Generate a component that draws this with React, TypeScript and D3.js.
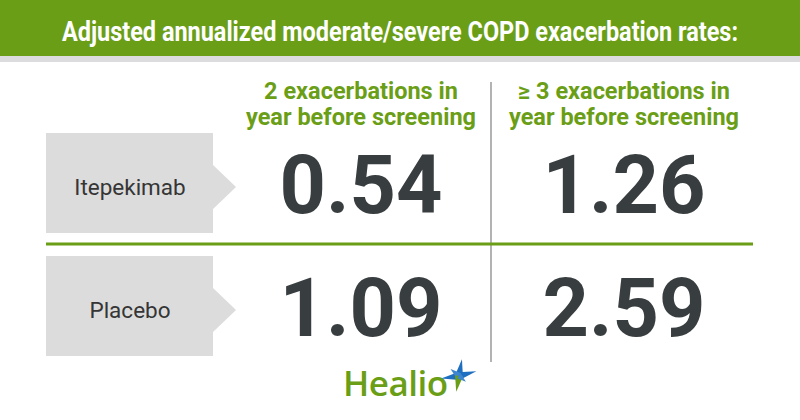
import React, { useEffect, useRef, useState } from "react";
import * as d3 from "d3";

const title = "Adjusted annualized moderate/severe COPD exacerbation rates:";
const columns = ["2 exacerbations in|year before screening", "≥ 3 exacerbations in|year before screening"];
const rows = ["Itepekimab", "Placebo"];
const itepekimabValues = [0.54, 1.26];
const placeboValues = [1.09, 2.59];
const seriesValues = [itepekimabValues, placeboValues];

const W = 800;
const H = 420;
const GREEN = "#6a9e16";
const DARK = "#383d3f";

export default function App() {
  const titleRef = useRef<SVGTextElement>(null);
  const [sx, setSx] = useState(0.84);
  useEffect(() => {
    if (titleRef.current) {
      const w = titleRef.current.getComputedTextLength();
      if (w > 0) setSx(676 / w);
    }
  }, []);

  const x = d3.scalePoint<string>().domain(columns).range([361, 624]);
  const y = d3.scaleBand<string>().domain(rows).range([133, 356]).paddingInner(0.187);
  const bw = y.bandwidth();
  const fmt = d3.format(".2f");

  const star = (cx: number, cy: number) => {
    const rays: [number, number, string, number][] = [
      [-80, 17, "#1f6fc0", 4],
      [-15, 18, "#1f6fc0", 4],
      [172, 18, "#1f6fc0", 4],
      [-140, 11, "#3d85d0", 3.5],
      [100, 16, "#6a9e16", 4],
      [40, 9, "#3d85d0", 3],
    ];
    return rays.map(([ang, len, c, w], i) => {
      const a = (ang * Math.PI) / 180;
      const tip = [cx + len * Math.cos(a), cy + len * Math.sin(a)];
      const p1 = [cx + w * Math.cos(a + Math.PI / 2), cy + w * Math.sin(a + Math.PI / 2)];
      const p2 = [cx + w * Math.cos(a - Math.PI / 2), cy + w * Math.sin(a - Math.PI / 2)];
      return <polygon key={i} points={`${p1[0]},${p1[1]} ${tip[0]},${tip[1]} ${p2[0]},${p2[1]}`} fill={c} />;
    });
  };

  return (
    <svg width={W} height={H} style={{ position: "absolute", left: 0, top: 0, display: "block" }} fontFamily="Roboto, 'Noto Sans', sans-serif">
      <rect x={0} y={0} width={W} height={H} fill="#ffffff" />
      <rect x={0} y={0} width={W} height={56} fill={GREEN} />
      <rect x={0} y={56} width={W} height={6} fill="#dcdcdf" />
      <g transform={`translate(400,41) scale(${sx},1)`}>
        <text ref={titleRef} x={0} y={0} textAnchor="middle" fill="#ffffff" fontSize={27} fontWeight={700}>{title}</text>
      </g>

      {/* vertical divider */}
      <line x1={491} x2={491} y1={82} y2={362} stroke="#9a9a9a" strokeWidth={1.5} />
      {/* horizontal green divider */}
      <line x1={46} x2={753} y1={244} y2={244} stroke={GREEN} strokeWidth={3} />

      {columns.map((c) => {
        const [l1, l2] = c.split("|");
        return (
          <g key={c}>
            <text x={x(c)} y={99} textAnchor="middle" fill={GREEN} fontSize={23.5} fontWeight={700}>{l1}</text>
            <text x={x(c)} y={125} textAnchor="middle" fill={GREEN} fontSize={23.5} fontWeight={700}>{l2}</text>
          </g>
        );
      })}

      {rows.map((r, ri) => {
        const y0 = y(r)!;
        const mid = y0 + bw / 2 + 4;
        return (
          <g key={r}>
            <path d={`M46,${y0} H213 V${mid - 22} L236,${mid} L213,${mid + 22} V${y0 + bw} H46 Z`} fill="#dcdcdc" />
            <text x={130} y={mid + 8} textAnchor="middle" fill="#353535" fontSize={22.5}>{r}</text>
            {columns.map((c, ci) => (
              <text key={c} x={x(c)} y={y0 + 80} textAnchor="middle" fill={DARK} fontSize={81} fontWeight={700}>
                {fmt(seriesValues[ri][ci])}
              </text>
            ))}
          </g>
        );
      })}

      <text x={343} y={396} fill={GREEN} fontSize={35} fontFamily="'Open Sans', Lato, sans-serif" fontWeight={600}
        letterSpacing={-0.5}>Healio</text>
      {star(459, 376)}
    </svg>
  );
}
